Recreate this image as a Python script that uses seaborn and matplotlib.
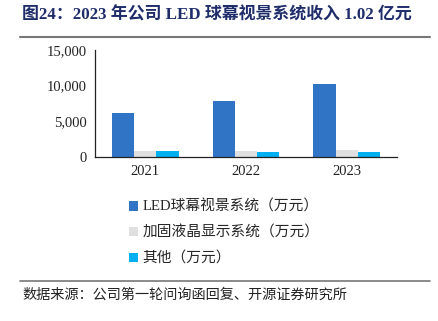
import matplotlib
matplotlib.use("Agg")
import matplotlib.pyplot as plt
import seaborn as sns
import pandas as pd
from matplotlib.patches import Patch
from matplotlib.lines import Line2D

years = ["2021", "2022", "2023"]
series_names = ["LED球幕视景系统（万元）", "加固液晶显示系统（万元）", "其他（万元）"]
led = [6170, 7810, 10240]
lcd = [840, 840, 940]
other = [850, 660, 660]
colors = ["#3074C6", "#E0E0E0", "#00B0F0"]
y_ticks = [0, 5000, 10000, 15000]

sns.set_style("white")
plt.rcParams["font.family"] = ["Liberation Serif", "Noto Sans CJK SC"]

rows = []
for name, vals in zip(series_names, [led, lcd, other]):
    for y, v in zip(years, vals):
        rows.append({"year": y, "series": name, "value": v})
df = pd.DataFrame(rows)

fig = plt.figure(figsize=(4.39, 3.21), dpi=100)
ax = fig.add_axes([95 / 439, 1 - 157 / 321, (397 - 95) / 439, (157 - 50) / 321])

sns.barplot(data=df, x="year", y="value", hue="series", palette=colors,
            hue_order=series_names, order=years, width=0.66, ax=ax,
            saturation=1, edgecolor="none", legend=False)

ax.set_ylim(0, 15000)
ax.set_xlim(-0.5, 2.5)
ax.set_yticks(y_ticks)
ax.set_yticklabels([f"{v:,}" for v in y_ticks], fontsize=10.5, color="#222222")
ax.set_xlabel("")
ax.set_ylabel("")
for lab in ax.get_xticklabels():
    lab.set_fontsize(10.5)
    lab.set_color("#222222")
ax.tick_params(axis="x", which="major", length=0, pad=6)
ax.set_xticks([-0.5, 0.5, 1.5, 2.5], minor=True)
ax.tick_params(axis="x", which="minor", direction="in", length=3, width=0.8, color="#222222")
ax.tick_params(axis="y", which="major", direction="in", length=3, width=0.8, color="#222222", pad=6)
for s in ["top", "right"]:
    ax.spines[s].set_visible(False)
for s in ["left", "bottom"]:
    ax.spines[s].set_color("#222222")
    ax.spines[s].set_linewidth(0.9)

handles = [Patch(facecolor=c, edgecolor="none") for c in colors]
fig.legend(handles, series_names, loc="upper left",
           bbox_to_anchor=(129 / 439, 1 - 200 / 321), frameon=False,
           handlelength=0.6, handleheight=0.6, handletextpad=0.3,
           labelspacing=0.8, borderaxespad=0, borderpad=0,
           prop={"family": ["Liberation Serif", "Noto Sans CJK SC"], "size": 10.6})

fig.text(22 / 439, 1 - 15 / 321, "图24：2023 年公司 LED 球幕视景系统收入 1.02 亿元",
         fontsize=12.2, fontweight="bold", color="#1F2D6B", va="center", ha="left")
fig.add_artist(Line2D([20 / 439, 430 / 439], [1 - 37 / 321, 1 - 37 / 321],
                      color="#777777", linewidth=1.5))
fig.add_artist(Line2D([20 / 439, 430 / 439], [1 - 281 / 321, 1 - 281 / 321],
                      color="#777777", linewidth=1.2))
fig.text(22 / 439, 1 - 295 / 321, "数据来源：公司第一轮问询函回复、开源证券研究所",
         fontsize=10.2, color="#222222", va="center", ha="left")

fig.savefig("out.png", dpi=100)
